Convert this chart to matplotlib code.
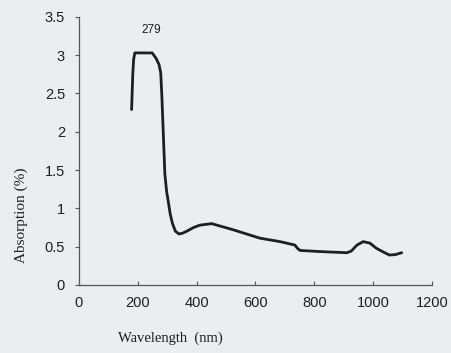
import matplotlib
matplotlib.use("Agg")
import matplotlib.pyplot as plt
from matplotlib.ticker import FormatStrFormatter

# spectrum
wavelength = [179, 183, 186, 190, 249, 262, 272, 278, 282, 285, 288, 292, 298, 304, 310, 318,
              328, 340, 352, 366, 390, 411, 451, 524, 615, 683, 734, 742, 751, 819, 910,
              925, 945, 966, 989, 1010, 1034, 1055, 1075, 1097]
absorption = [2.29, 2.75, 2.95, 3.03, 3.03, 2.96, 2.88, 2.77, 2.45, 2.15, 1.85, 1.45, 1.22, 1.08,
              0.93, 0.80, 0.70, 0.665, 0.675, 0.70, 0.75, 0.78, 0.80, 0.72, 0.61, 0.565, 0.52,
              0.48, 0.45, 0.435, 0.42, 0.44, 0.52, 0.565, 0.545, 0.48, 0.43, 0.39, 0.395, 0.42]

x_ticks = [0, 200, 400, 600, 800, 1000, 1200]
y_ticks = [0, 0.5, 1, 1.5, 2, 2.5, 3, 3.5]
peak_label = "279"

bg = "#ecedf1"
ink = "#1e1e1e"
tick_font = ["Liberation Sans", "DejaVu Sans"]
serif = ["Liberation Serif", "DejaVu Serif"]

fig = plt.figure(figsize=(4.51, 3.53), dpi=100, facecolor=bg)
ax = fig.add_axes([0.175, 0.193, 0.783, 0.759], facecolor=bg)

ax.plot(wavelength, absorption, color=ink, linewidth=2.0,
        solid_joinstyle="round", solid_capstyle="round")
ax.text(246, 3.33, peak_label, ha="center", va="center", fontsize=8.5,
        family=tick_font, color=ink)

ax.set_xlim(0, 1200)
ax.set_ylim(0, 3.5)
ax.set_xticks(x_ticks)
ax.set_yticks(y_ticks)
ax.yaxis.set_major_formatter(FormatStrFormatter("%g"))

for s in ["top", "right"]:
    ax.spines[s].set_visible(False)
for s in ["left", "bottom"]:
    ax.spines[s].set_color("#555555")
    ax.spines[s].set_linewidth(0.9)

ax.tick_params(axis="y", direction="out", length=3, width=0.8, color="#555555", pad=7)
ax.tick_params(axis="x", direction="in", length=3, width=0.8, color="#555555", pad=8)
for lab in ax.get_xticklabels() + ax.get_yticklabels():
    lab.set_family(tick_font)
    lab.set_fontsize(10.5)
    lab.set_color(ink)

ax.set_xlabel("Wavelength  (nm)", family=serif, fontsize=10.5, color=ink)
ax.set_ylabel("Absorption (%)", family=serif, fontsize=11, color=ink)
ax.xaxis.set_label_coords(0.258, -0.175)
ax.yaxis.set_label_coords(-0.145, 0.26)

fig.savefig("out.png", dpi=100, facecolor=bg)
